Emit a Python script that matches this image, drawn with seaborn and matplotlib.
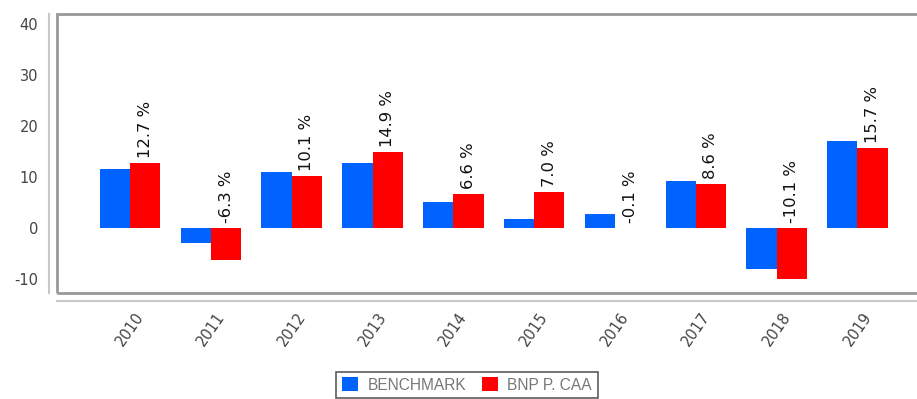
import matplotlib
matplotlib.use("Agg")
import matplotlib.pyplot as plt
import seaborn as sns
import pandas as pd
from matplotlib.patches import Rectangle

years = ["2010", "2011", "2012", "2013", "2014", "2015", "2016", "2017", "2018", "2019"]
benchmark = [11.6, -2.9, 11.0, 12.7, 5.0, 1.7, 2.7, 9.2, -8.0, 17.0]
fund = [12.7, -6.3, 10.1, 14.9, 6.6, 7.0, -0.1, 8.6, -10.1, 15.7]
series_names = ["BENCHMARK", "BNP P. CAA"]
yticks = [-10, 0, 10, 20, 30, 40]

df = pd.DataFrame({
    "year": years * 2,
    "value": benchmark + fund,
    "series": [series_names[0]] * len(years) + [series_names[1]] * len(years),
})

sns.set_theme(style="white")
plt.rcParams['font.family'] = ['DejaVu Sans']

W, H = 917, 399
fig = plt.figure(figsize=(W / 100, H / 100), dpi=100)
ax = fig.add_axes([57 / W, 1 - 293 / H, (W - 57) / W + 0.01, (293 - 14) / H])

palette = {series_names[0]: "#0062ff", series_names[1]: "#ff0000"}
sns.barplot(data=df, x="year", y="value", hue="series", palette=palette,
            width=0.75, gap=0, saturation=1, ax=ax, legend=True, errorbar=None,
            linewidth=0, edgecolor="none")

ax.set_xlim(-0.904, 9.85)
ax.set_ylim(-12.75, 41.96)
ax.set_yticks(yticks)
ax.set_yticklabels([str(t) for t in yticks])
ax.set_xlabel("")
ax.set_ylabel("")

# value labels above red bars
for i, v in enumerate(fund):
    base = max(v, 0)
    ax.annotate(f"{v:.1f} %", xy=(i + 0.1875, base), xytext=(0, 5),
                textcoords="offset pixels", rotation=90, ha="center", va="bottom",
                fontsize=11.8, color="#111111")

# spines: offset axis lines, frame drawn separately
for s in ["top", "right"]:
    ax.spines[s].set_visible(False)
for s in ["left", "bottom"]:
    ax.spines[s].set_position(("outward", 6))
    ax.spines[s].set_color("#c8c8c8")
    ax.spines[s].set_linewidth(1.5)
ax.spines["left"].set_bounds(-12.75, 41.96)
ax.add_patch(Rectangle((0, 0), 1, 1, transform=ax.transAxes, fill=False,
                       edgecolor="#999999", linewidth=2, clip_on=False, zorder=5))

ax.tick_params(axis="both", which="both", length=4, width=1, color="#aaaaaa",
               labelcolor="#444444", labelsize=10.5, direction="out")
ax.tick_params(axis="x", pad=2)
for lbl in ax.get_xticklabels():
    lbl.set_rotation(55)
    lbl.set_ha("center")
    lbl.set_va("top")
    lbl.set_rotation_mode("default")

leg = ax.legend(loc="upper center", bbox_to_anchor=(467 / W, 1 - 372 / H),
                bbox_transform=fig.transFigure, ncol=2, frameon=True,
                fancybox=False, edgecolor="#333333", handlelength=1.05,
                handleheight=1.0, handletextpad=0.6, columnspacing=1.0,
                borderpad=0.35, borderaxespad=0,
                prop={"family": "Liberation Sans", "size": 11.2})
leg.get_frame().set_linewidth(1.2)
for t in leg.get_texts():
    t.set_color("#777777")

fig.savefig("out.png", dpi=100)
